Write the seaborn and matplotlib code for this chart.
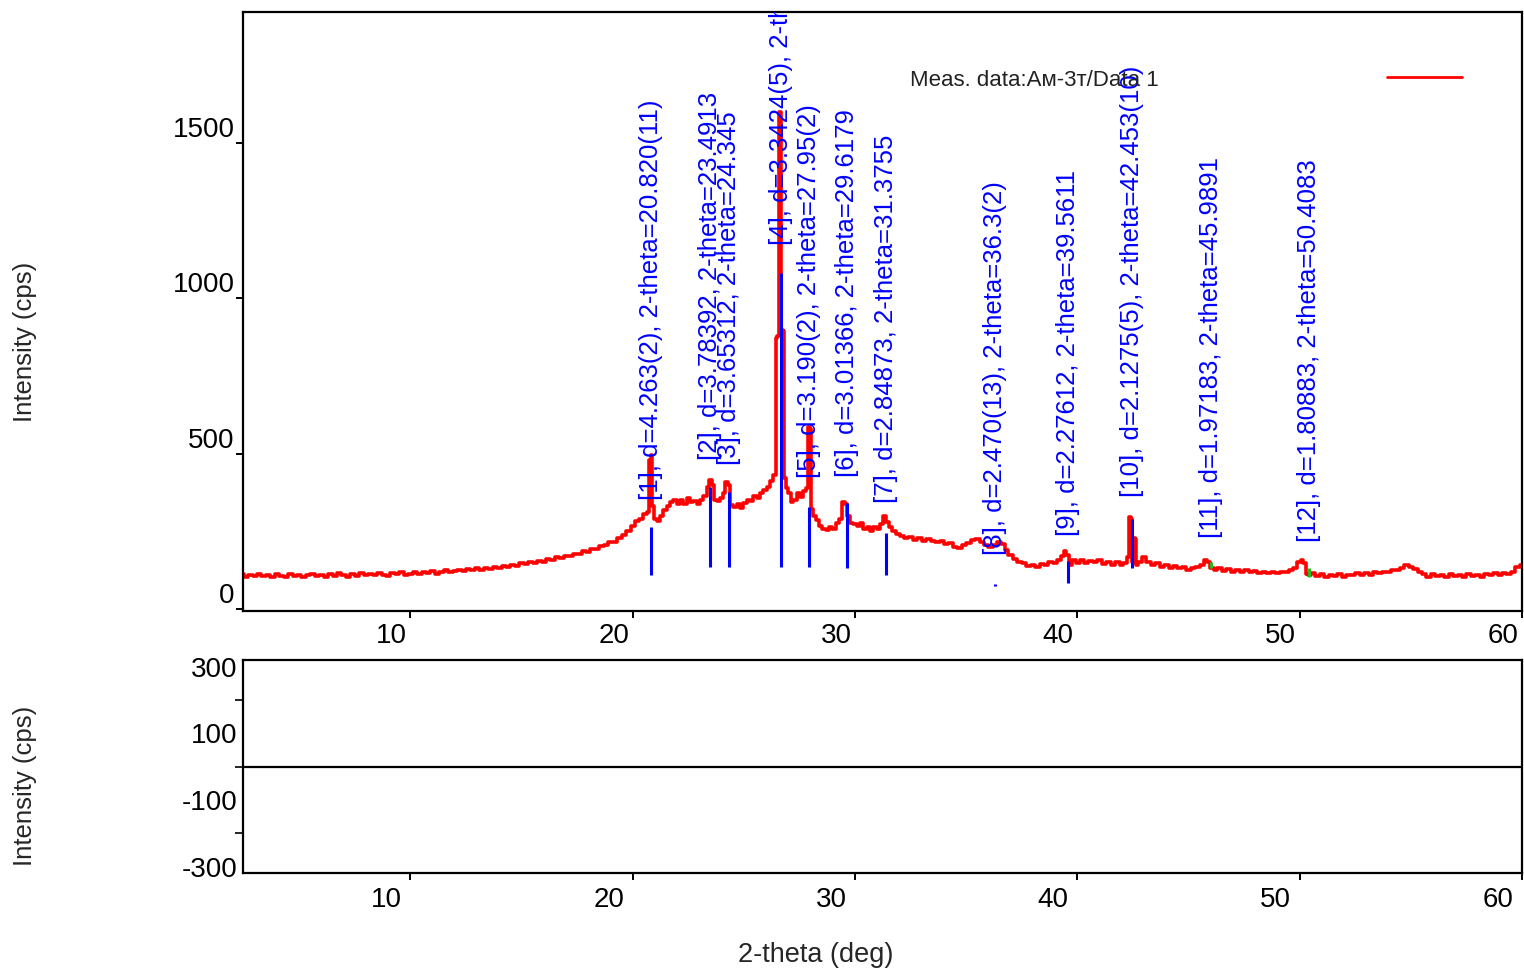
import numpy as np
import pandas as pd
import seaborn as sns
import matplotlib.pyplot as plt
import matplotlib.transforms as mtransforms
from matplotlib.lines import Line2D

# --- scan data (2-theta in deg, intensity in cps) ---
low_angle = [
    (2.4, 112), (2.6, 104), (2.8, 110), (3.0, 106), (3.2, 113), (3.4, 105), (3.6, 109), (3.8, 103), (4.0, 111), (4.2, 107),
    (4.4, 104), (4.6, 112), (4.8, 106), (5.0, 110), (5.2, 101), (5.4, 108), (5.6, 113), (5.8, 105), (6.0, 109), (6.2, 104),
    (6.4, 111), (6.6, 106), (6.8, 114), (7.0, 108), (7.2, 104), (7.4, 112), (7.6, 107), (7.8, 115), (8.0, 109), (8.2, 113),
    (8.4, 108), (8.6, 116), (8.8, 110), (9.0, 106), (9.2, 114), (9.4, 111), (9.6, 117), (9.8, 109), (10.0, 113), (10.2, 118),
    (10.4, 112), (10.6, 119), (10.8, 115), (11.0, 121), (11.2, 113), (11.4, 118), (11.6, 124), (11.8, 117), (12.0, 122), (12.2, 126),
    (12.4, 121), (12.6, 128), (12.8, 124), (13.0, 131), (13.2, 126), (13.4, 133), (13.6, 129), (13.8, 136), (14.0, 132), (14.2, 139),
    (14.4, 136), (14.6, 142), (14.8, 138), (15.0, 146), (15.2, 143), (15.4, 150), (15.6, 147), (15.8, 155), (16.0, 152), (16.2, 160),
    (16.4, 158), (16.6, 166), (16.8, 163), (17.0, 171), (17.2, 170), (17.4, 178), (17.6, 176), (17.8, 186), (18.0, 184), (18.2, 194),
    (18.4, 194), (18.6, 203), (18.8, 204), (19.0, 214), (19.2, 216), (19.4, 227), (19.6, 238), (19.8, 250), (20.0, 268), (20.2, 282),
]

amorphous_hump = [
    (20.4, 290), (20.55, 305), (20.7, 312), (20.78, 480), (20.84, 496), (20.9, 330), (21.0, 290), (21.15, 282),
    (21.3, 300), (21.45, 318), (21.6, 330), (21.75, 345), (21.9, 352), (22.05, 338), (22.2, 350), (22.35, 336),
    (22.5, 356), (22.65, 344), (22.8, 348), (22.95, 338), (23.1, 352), (23.25, 362), (23.4, 392), (23.5, 415),
    (23.6, 398), (23.72, 352), (23.85, 348), (24.0, 356), (24.12, 372), (24.22, 410), (24.32, 398), (24.45, 335),
    (24.6, 328), (24.75, 336), (24.9, 326), (25.05, 342), (25.2, 352), (25.35, 346), (25.5, 362), (25.65, 358),
    (25.8, 372), (25.95, 384), (26.1, 392), (26.25, 412), (26.4, 430), (26.45, 872), (26.56, 878), (26.6, 1600),
    (26.66, 1600), (26.7, 898), (26.8, 896), (26.84, 420), (26.95, 390), (27.05, 372), (27.15, 345), (27.3, 350),
    (27.45, 372), (27.6, 360), (27.75, 378), (27.85, 390), (27.93, 586), (28.0, 580), (28.05, 320), (28.15, 300),
    (28.3, 285), (28.45, 268), (28.6, 258), (28.75, 254), (28.9, 262), (29.05, 258), (29.2, 276), (29.35, 290),
    (29.48, 345), (29.58, 338), (29.7, 300), (29.85, 276), (30.0, 272), (30.15, 266), (30.3, 276), (30.45, 258),
    (30.6, 262), (30.75, 252), (30.9, 264), (31.05, 258), (31.2, 272), (31.35, 298), (31.45, 280), (31.6, 262),
    (31.75, 250), (31.9, 240),
]

high_angle = [
    (32.1, 236), (32.3, 228), (32.5, 232), (32.7, 222), (32.9, 228), (33.1, 218), (33.3, 226), (33.5, 220), (33.7, 214), (33.9, 220),
    (34.1, 208), (34.3, 212), (34.5, 200), (34.7, 196), (34.9, 204), (35.1, 212), (35.3, 222), (35.5, 224), (35.7, 214), (35.9, 204),
    (36.1, 200), (36.3, 206), (36.5, 214), (36.65, 210), (36.8, 188), (37.0, 172), (37.2, 160), (37.4, 152), (37.6, 146), (37.8, 138),
    (38.0, 142), (38.2, 136), (38.4, 144), (38.6, 140), (38.8, 150), (39.0, 146), (39.2, 158), (39.35, 170), (39.45, 186), (39.55, 172),
    (39.7, 140), (39.85, 156), (40.0, 148), (40.2, 158), (40.4, 146), (40.6, 154), (40.8, 150), (41.0, 158), (41.2, 144), (41.4, 152),
    (41.6, 142), (41.8, 150), (42.0, 140), (42.15, 146), (42.3, 166), (42.38, 297), (42.45, 290), (42.5, 150), (42.56, 228), (42.62, 224),
    (42.68, 140), (42.8, 150), (43.0, 168), (43.2, 150), (43.4, 142), (43.6, 146), (43.8, 136), (44.0, 142), (44.2, 132), (44.4, 138),
    (44.6, 130), (44.8, 134), (45.0, 126), (45.2, 132), (45.4, 136), (45.6, 142), (45.75, 158), (45.9, 150), (46.05, 130), (46.2, 126),
    (46.4, 130), (46.6, 122), (46.8, 128), (47.0, 120), (47.2, 126), (47.4, 118), (47.6, 124), (47.8, 118), (48.0, 122), (48.2, 114),
    (48.4, 120), (48.6, 116), (48.8, 120), (49.0, 114), (49.2, 118), (49.4, 120), (49.6, 124), (49.8, 130), (50.0, 150), (50.1, 158),
    (50.22, 148), (50.32, 112), (50.45, 108), (50.6, 114), (50.8, 106), (51.0, 112), (51.2, 104), (51.4, 110), (51.6, 106), (51.8, 112),
    (52.0, 104), (52.2, 110), (52.4, 108), (52.6, 114), (52.8, 110), (53.0, 116), (53.2, 110), (53.4, 118), (53.6, 114), (53.8, 120),
    (54.0, 118), (54.2, 126), (54.4, 124), (54.6, 132), (54.8, 140), (55.0, 134), (55.2, 128), (55.4, 120), (55.6, 112), (55.8, 104),
    (56.0, 112), (56.2, 106), (56.4, 110), (56.6, 104), (56.8, 112), (57.0, 106), (57.2, 110), (57.4, 104), (57.6, 112), (57.8, 106),
    (58.0, 110), (58.2, 104), (58.4, 112), (58.6, 108), (58.8, 114), (59.0, 108), (59.2, 116), (59.4, 112), (59.6, 120), (59.8, 134),
    (60.0, 142),
]

# --- peak list (sticks + labels) ---
peak_2theta = [20.82, 23.49, 24.345, 26.65, 27.95, 29.62, 31.38, 36.3, 39.56, 42.45, 45.99, 50.41]
stick_lo = [109, 136, 136, 136, 136, 132, 109, 74, 83, 132, 131, 103]
stick_hi = [265, 393, 376, 1081, 329, 341, 245, 80, 154, 288, 152, 132]
stick_colors = ["#0000ff"] * 10 + ["#22bb22"] * 2
label_base = [351, 480, 463, 1172, 422, 426, 341, 174, 234, 360, 228, 216]
peak_labels = [
    "[1], d=4.263(2), 2-theta=20.820(11)",
    "[2], d=3.78392, 2-theta=23.4913",
    "[3], d=3.65312, 2-theta=24.345",
    "[4], d=3.3424(5), 2-theta=26.650(8)",
    "[5], d=3.190(2), 2-theta=27.95(2)",
    "[6], d=3.01366, 2-theta=29.6179",
    "[7], d=2.84873, 2-theta=31.3755",
    "[8], d=2.470(13), 2-theta=36.3(2)",
    "[9], d=2.27612, 2-theta=39.5611",
    "[10], d=2.1275(5), 2-theta=42.453(10)",
    "[11], d=1.97183, 2-theta=45.9891",
    "[12], d=1.80883, 2-theta=50.4083",
]

x_ticks = [10, 20, 30, 40, 50, 60]
top_y_ticks = [0, 500, 1000, 1500]
bot_y_labels = [-300, -100, 100, 300]
bot_y_minor = [-200, 0, 200]

scan = pd.DataFrame(low_angle + amorphous_hump + high_angle, columns=["two_theta", "cps"])

sns.set_style("ticks")
plt.rcParams["font.family"] = ["Liberation Sans", "DejaVu Sans"]
plt.rcParams["axes.unicode_minus"] = False

W, H = 1524, 969
fig = plt.figure(figsize=(W / 100, H / 100), dpi=100)
fig.patch.set_facecolor("white")

def px_box(x0, y0, x1, y1):
    return [x0 / W, 1 - y1 / H, (x1 - x0) / W, (y1 - y0) / H]

ax = fig.add_axes(px_box(243, 12, 1522, 611))
ax2 = fig.add_axes(px_box(243, 660, 1522, 873))

# measured pattern (step trace like the instrument software)
sns.lineplot(data=scan, x="two_theta", y="cps", ax=ax, color="#ff0000",
             linewidth=2.6, estimator=None, sort=False, legend=False,
             drawstyle="steps-mid")

# peak sticks
ax.vlines(peak_2theta, stick_lo, stick_hi, colors=stick_colors, linewidth=2.2, zorder=3)

# peak labels
for xp, yb, txt in zip(peak_2theta, label_base, peak_labels):
    ax.text(xp, yb, txt, rotation=90, ha="center", va="bottom", color="#0000ff",
            fontsize=18.5, clip_on=True, zorder=4)

ax.set_xlim(2.47, 59.87)
ax.set_ylim(-7, 1922)
ax.set_xticks(x_ticks)
ax.set_yticks(top_y_ticks)
ax.set_xlabel("")
ax.set_ylabel("")

ax2.axhline(0, color="black", linewidth=1.6)
ax2.set_xlim(2.47, 59.87)
ax2.set_ylim(-319, 320)
ax2.set_xticks(x_ticks)
ax2.set_yticks(bot_y_labels)
ax2.set_yticks(bot_y_minor, minor=True)

for a in (ax, ax2):
    for s in a.spines.values():
        s.set_visible(True)
        s.set_linewidth(1.6)
        s.set_color("black")
    a.tick_params(axis="both", which="major", direction="out", length=5, width=1.4,
                  labelsize=20, colors="black", pad=1)
    a.set_facecolor("white")
ax2.tick_params(axis="y", which="major", length=0, pad=4)
ax2.tick_params(axis="y", which="minor", length=6, width=1.4)

# the software writes labels a bit off their ticks
shift_up = mtransforms.ScaledTranslation(0, 16 / 100, fig.dpi_scale_trans)
for lab in ax.get_yticklabels():
    lab.set_transform(lab.get_transform() + shift_up)
shift_left_top = mtransforms.ScaledTranslation(-19 / 100, -4 / 100, fig.dpi_scale_trans)
for lab in ax.get_xticklabels():
    lab.set_transform(lab.get_transform() + shift_left_top)
shift_left_bot = mtransforms.ScaledTranslation(-24 / 100, -6 / 100, fig.dpi_scale_trans)
for lab in ax2.get_xticklabels():
    lab.set_transform(lab.get_transform() + shift_left_bot)

# axis titles and legend entry
fig.text(25 / W, 1 - 342 / H, "Intensity (cps)", rotation=90, ha="center", va="center", fontsize=18.5)
fig.text(25 / W, 1 - 786 / H, "Intensity (cps)", rotation=90, ha="center", va="center", fontsize=18.5)
fig.text(816 / W, 1 - 955 / H, "2-theta (deg)", ha="center", va="center", fontsize=19.5)
fig.text(910 / W, 1 - 80 / H, "Meas. data:Ам-3т/Data 1", ha="left", va="center", fontsize=16, color="#222222")
fig.add_artist(Line2D([1387 / W, 1462 / W], [1 - 77 / H, 1 - 77 / H], color="#ff0000", linewidth=2))

fig.savefig("out.png", dpi=100, facecolor="white")
